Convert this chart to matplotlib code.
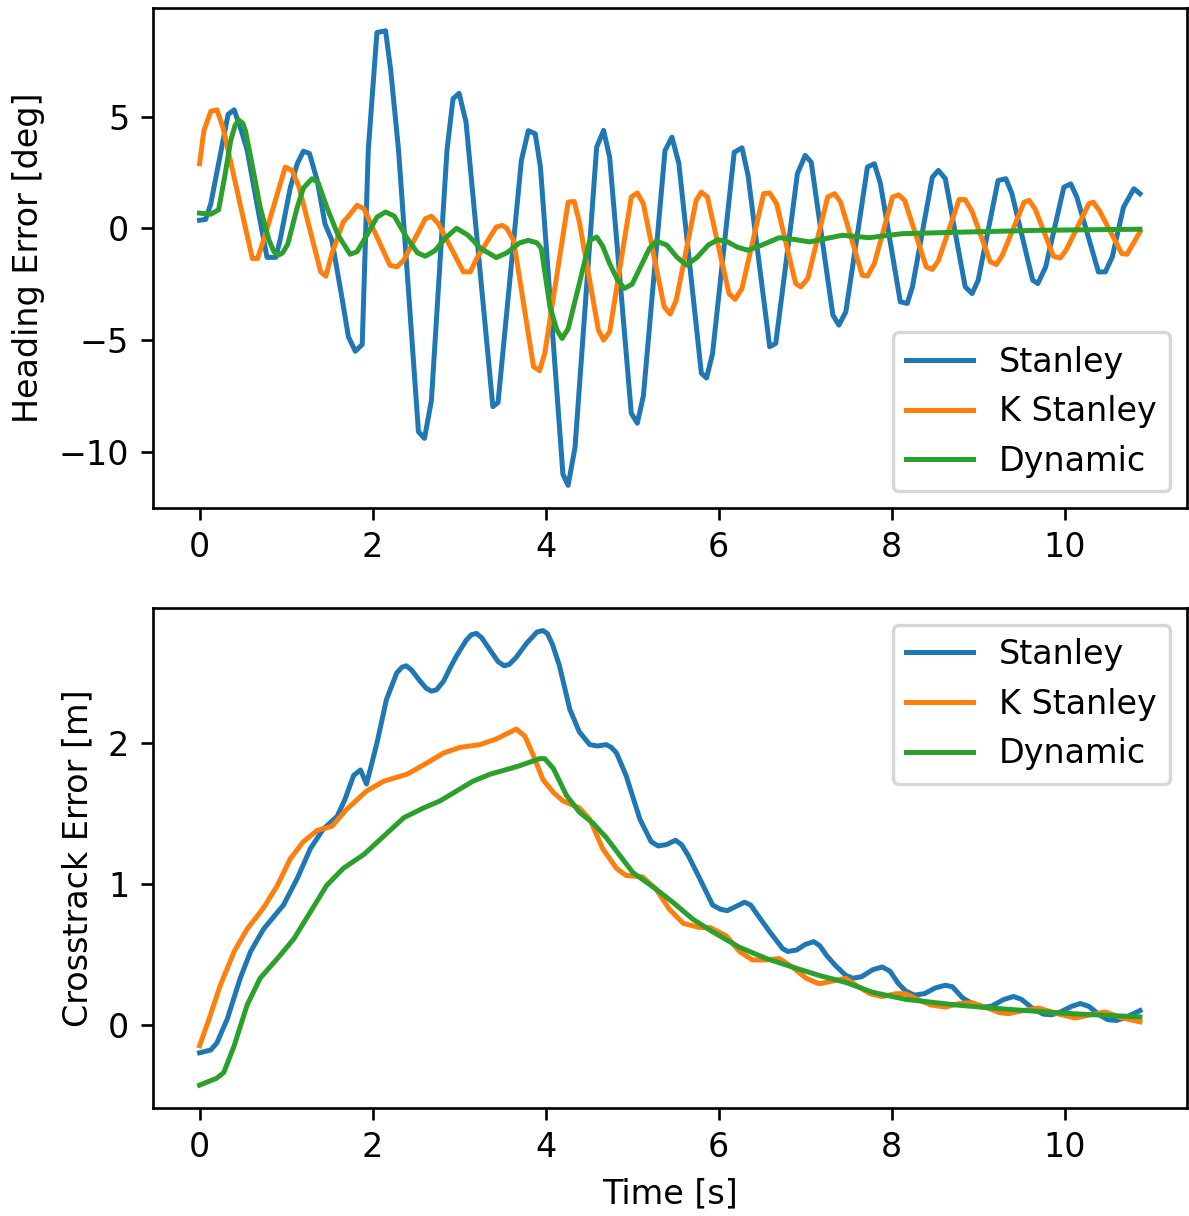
import matplotlib
matplotlib.use('Agg')
import matplotlib.pyplot as plt
from matplotlib.ticker import MultipleLocator

labels = ['Stanley', 'K Stanley', 'Dynamic']

# heading error [deg]
t_head_stanley = [0.0, 0.07, 0.13, 0.25, 0.33, 0.40, 0.48, 0.55, 0.67, 0.78, 0.88, 0.93, 1.05, 1.13, 1.20, 1.27,
                  1.36, 1.45, 1.53, 1.65, 1.72, 1.80, 1.88, 1.95, 2.05, 2.15, 2.21, 2.30, 2.53, 2.60, 2.68,
                  2.86, 2.93, 3.00, 3.08, 3.39, 3.45, 3.72, 3.80, 3.88, 3.94, 4.20, 4.26, 4.34, 4.59, 4.67,
                  4.74, 4.99, 5.06, 5.13, 5.38, 5.46, 5.54, 5.80, 5.86, 5.93, 6.18, 6.27, 6.34, 6.59, 6.66,
                  6.91, 7.00, 7.07, 7.32, 7.39, 7.47, 7.72, 7.80, 7.87, 8.10, 8.18, 8.24, 8.47, 8.54, 8.62,
                  8.85, 8.93, 9.00, 9.23, 9.32, 9.39, 9.63, 9.69, 9.78, 9.99, 10.07, 10.14, 10.39, 10.47,
                  10.55, 10.68, 10.80, 10.87]
head_stanley = [0.36, 0.40, 1.1, 3.5, 5.1, 5.3, 4.4, 3.5, 0.95, -1.3, -1.3, -0.54, 1.84, 2.9, 3.45, 3.35,
                2.14, 0.2, -0.54, -3.2, -4.85, -5.5, -5.2, 3.5, 8.76, 8.84, 7.05, 3.5, -9.1, -9.4, -7.7,
                3.5, 5.8, 6.04, 4.75, -7.98, -7.8, 3.04, 4.37, 4.23, 2.74, -11.0, -11.5, -9.8, 3.63, 4.38,
                3.18, -8.27, -8.72, -7.5, 3.48, 4.08, 2.9, -6.48, -6.7, -5.6, 3.4, 3.6, 2.37, -5.3, -5.15,
                2.44, 3.26, 2.96, -3.88, -4.33, -3.74, 2.74, 2.89, 2.0, -3.29, -3.36, -2.62, 2.29, 2.59, 2.22,
                -2.62, -2.92, -2.32, 2.14, 2.22, 1.55, -2.32, -2.47, -1.73, 1.84, 1.99, 1.40, -1.95, -1.95,
                -1.28, 0.95, 1.77, 1.55]

t_head_kstanley = [0.0, 0.05, 0.13, 0.20, 0.27, 0.61, 0.67, 0.74, 0.99, 1.07, 1.15, 1.40, 1.46, 1.53, 1.66,
                   1.73, 1.82, 1.90, 2.20, 2.28, 2.36, 2.61, 2.68, 2.76, 3.05, 3.13, 3.21, 3.43, 3.50, 3.55,
                   3.63, 3.86, 3.93, 3.99, 4.26, 4.33, 4.39, 4.61, 4.67, 4.74, 4.99, 5.06, 5.13, 5.37, 5.44,
                   5.51, 5.74, 5.80, 5.87, 6.12, 6.19, 6.27, 6.52, 6.59, 6.67, 6.89, 6.95, 7.03, 7.26, 7.34,
                   7.41, 7.66, 7.72, 7.80, 8.01, 8.08, 8.15, 8.40, 8.47, 8.54, 8.78, 8.85, 8.93, 9.14, 9.21,
                   9.28, 9.53, 9.59, 9.66, 9.87, 9.95, 10.02, 10.28, 10.33, 10.40, 10.66, 10.72, 10.87]
head_kstanley = [2.89, 4.37, 5.24, 5.3, 4.52, -1.35, -1.35, -0.54, 2.74, 2.59, 1.84, -1.95, -2.14, -1.13, 0.28,
                 0.58, 1.03, 0.88, -1.65, -1.73, -1.43, 0.43, 0.54, 0.21, -1.95, -1.95, -1.3, 0.06, 0.13, 0.0,
                 -0.54, -6.19, -6.37, -5.6, 1.17, 1.2, 0.28, -4.55, -5.0, -4.63, 1.40, 1.58, 1.10, -3.51, -3.84,
                 -3.21, 1.25, 1.62, 1.40, -2.92, -3.18, -2.69, 1.55, 1.58, 1.10, -2.47, -2.62, -2.25, 1.40, 1.55,
                 1.17, -2.1, -2.14, -1.58, 1.40, 1.50, 1.25, -1.73, -1.84, -1.45, 1.29, 1.28, 0.75, -1.50, -1.62,
                 -1.2, 1.17, 1.25, 0.85, -1.25, -1.33, -0.95, 1.10, 1.17, 0.80, -1.13, -1.16, -0.16]

t_head_dynamic = [0.0, 0.13, 0.22, 0.29, 0.36, 0.41, 0.45, 0.50, 0.53, 0.60, 0.70, 0.80, 0.86, 0.91, 0.96,
                  1.02, 1.13, 1.20, 1.30, 1.37, 1.47, 1.60, 1.74, 1.82, 1.95, 2.05, 2.15, 2.25, 2.40, 2.52,
                  2.61, 2.72, 2.85, 2.97, 3.10, 3.25, 3.43, 3.55, 3.70, 3.80, 3.90, 3.95, 4.05, 4.13, 4.19,
                  4.26, 4.39, 4.51, 4.59, 4.66, 4.74, 4.83, 4.91, 5.00, 5.10, 5.20, 5.28, 5.40, 5.52, 5.63,
                  5.75, 5.88, 5.99, 6.10, 6.22, 6.34, 6.50, 6.70, 6.88, 7.05, 7.25, 7.43, 7.74, 8.12, 8.93,
                  9.70, 10.87]
head_dynamic = [0.68, 0.63, 0.83, 2.3, 3.93, 4.6, 4.85, 4.7, 4.37, 3.0, 0.95, -0.5, -1.05, -1.2, -1.1,
                -0.7, 0.95, 1.8, 2.22, 2.05, 0.95, -0.3, -1.16, -1.05, -0.2, 0.5, 0.73, 0.55, -0.45, -1.1,
                -1.25, -1.0, -0.4, 0.0, -0.3, -0.9, -1.31, -1.1, -0.65, -0.54, -0.65, -0.9, -3.51, -4.55, -4.93,
                -4.5, -2.47, -0.54, -0.39, -0.8, -1.58, -2.3, -2.69, -2.5, -1.7, -0.9, -0.57, -0.75, -1.3, -1.65,
                -1.3, -0.75, -0.51, -0.6, -0.85, -0.98, -0.75, -0.42, -0.5, -0.61, -0.45, -0.31, -0.42, -0.24, -0.16,
                -0.09, -0.04]

# crosstrack error [m]
t_ct_stanley = [0.0, 0.13, 0.20, 0.32, 0.47, 0.59, 0.74, 0.97, 1.13, 1.28, 1.43, 1.59, 1.68, 1.78, 1.86, 1.93,
                2.05, 2.16, 2.28, 2.34, 2.39, 2.45, 2.55, 2.62, 2.68, 2.74, 2.82, 2.90, 2.97, 3.08, 3.14,
                3.20, 3.26, 3.36, 3.45, 3.52, 3.58, 3.66, 3.78, 3.90, 3.97, 4.02, 4.08, 4.16, 4.28, 4.39,
                4.51, 4.60, 4.70, 4.76, 4.82, 4.93, 5.09, 5.22, 5.30, 5.40, 5.50, 5.57, 5.65, 5.78, 5.93,
                6.02, 6.10, 6.20, 6.30, 6.37, 6.45, 6.59, 6.74, 6.80, 6.90, 7.00, 7.10, 7.17, 7.25, 7.35,
                7.47, 7.55, 7.65, 7.78, 7.89, 7.98, 8.08, 8.16, 8.26, 8.38, 8.50, 8.62, 8.70, 8.82, 8.93,
                9.05, 9.15, 9.30, 9.41, 9.50, 9.62, 9.75, 9.85, 9.95, 10.08, 10.18, 10.28, 10.40, 10.50,
                10.60, 10.70, 10.87]
ct_stanley = [-0.20, -0.18, -0.13, 0.04, 0.33, 0.52, 0.68, 0.85, 1.04, 1.25, 1.39, 1.48, 1.60, 1.77, 1.81, 1.71,
              2.00, 2.31, 2.50, 2.54, 2.55, 2.52, 2.44, 2.39, 2.37, 2.38, 2.44, 2.54, 2.62, 2.73, 2.77,
              2.78, 2.75, 2.66, 2.58, 2.55, 2.56, 2.61, 2.71, 2.79, 2.80, 2.78, 2.70, 2.55, 2.24, 2.08,
              1.99, 1.98, 1.99, 1.97, 1.93, 1.77, 1.46, 1.30, 1.27, 1.28, 1.31, 1.28, 1.20, 1.04, 0.85,
              0.82, 0.81, 0.84, 0.87, 0.85, 0.78, 0.66, 0.54, 0.52, 0.53, 0.57, 0.59, 0.56, 0.49, 0.42,
              0.35, 0.33, 0.34, 0.39, 0.41, 0.38, 0.29, 0.24, 0.21, 0.22, 0.26, 0.28, 0.27, 0.19, 0.15,
              0.125, 0.13, 0.18, 0.20, 0.18, 0.12, 0.075, 0.07, 0.09, 0.13, 0.15, 0.13, 0.07, 0.035,
              0.03, 0.05, 0.10]

t_ct_kstanley = [0.0, 0.11, 0.24, 0.40, 0.55, 0.74, 0.90, 1.05, 1.20, 1.36, 1.53, 1.70, 1.93, 2.13, 2.40,
                 2.63, 2.82, 3.01, 3.24, 3.43, 3.66, 3.76, 3.86, 3.97, 4.09, 4.20, 4.39, 4.51, 4.66, 4.82,
                 4.93, 5.12, 5.28, 5.43, 5.59, 5.78, 5.90, 6.09, 6.24, 6.39, 6.55, 6.70, 6.85, 7.01, 7.16,
                 7.47, 7.59, 7.75, 7.89, 8.05, 8.16, 8.30, 8.45, 8.62, 8.78, 8.93, 9.10, 9.25, 9.35, 9.52,
                 9.70, 9.90, 10.12, 10.30, 10.47, 10.65, 10.87]
ct_kstanley = [-0.15, 0.04, 0.28, 0.52, 0.68, 0.83, 0.99, 1.18, 1.30, 1.38, 1.41, 1.53, 1.66, 1.73, 1.78,
               1.86, 1.93, 1.97, 1.99, 2.03, 2.10, 2.05, 1.91, 1.74, 1.65, 1.59, 1.54, 1.46, 1.25, 1.11,
               1.06, 1.05, 0.96, 0.82, 0.72, 0.69, 0.69, 0.63, 0.52, 0.46, 0.46, 0.47, 0.41, 0.33, 0.29,
               0.33, 0.28, 0.22, 0.20, 0.22, 0.22, 0.18, 0.14, 0.125, 0.15, 0.156, 0.12, 0.085, 0.078, 0.10,
               0.118, 0.08, 0.047, 0.07, 0.09, 0.05, 0.02]

t_ct_dynamic = [0.0, 0.20, 0.28, 0.40, 0.55, 0.70, 0.90, 1.09, 1.28, 1.47, 1.66, 1.90, 2.13, 2.36, 2.59,
                2.78, 2.97, 3.16, 3.36, 3.59, 3.70, 3.93, 3.99, 4.09, 4.24, 4.39, 4.55, 4.70, 4.86, 5.01,
                5.24, 5.47, 5.70, 5.93, 6.24, 6.55, 6.85, 7.16, 7.47, 7.78, 8.16, 8.74, 9.32, 10.08, 10.87]
ct_dynamic = [-0.43, -0.38, -0.34, -0.15, 0.14, 0.33, 0.47, 0.61, 0.80, 0.99, 1.11, 1.21, 1.34, 1.47, 1.54,
              1.59, 1.66, 1.73, 1.78, 1.82, 1.84, 1.89, 1.89, 1.82, 1.63, 1.51, 1.43, 1.33, 1.20, 1.08,
              0.98, 0.87, 0.75, 0.66, 0.55, 0.47, 0.41, 0.35, 0.30, 0.23, 0.18, 0.14, 0.11, 0.078, 0.055]

# ~240 dpi with default 10pt fonts
fig = plt.figure(figsize=(1189 / 240, 1216 / 240), dpi=240)
ax1 = fig.add_axes([0.1283, 0.5822, 0.8700, 0.4112])
ax2 = fig.add_axes([0.1283, 0.0889, 0.8700, 0.4112])

ax1.plot(t_head_stanley, head_stanley, label=labels[0])
ax1.plot(t_head_kstanley, head_kstanley, label=labels[1])
ax1.plot(t_head_dynamic, head_dynamic, label=labels[2])
ax1.set_ylabel('Heading Error [deg]')
ax1.legend(loc='lower right')

ax2.plot(t_ct_stanley, ct_stanley, label=labels[0])
ax2.plot(t_ct_kstanley, ct_kstanley, label=labels[1])
ax2.plot(t_ct_dynamic, ct_dynamic, label=labels[2])
ax2.yaxis.set_major_locator(MultipleLocator(1))
ax2.set_ylabel('Crosstrack Error [m]')
ax2.set_xlabel('Time [s]')
ax2.legend(loc='upper right')

fig.savefig('out.png', dpi=240)
